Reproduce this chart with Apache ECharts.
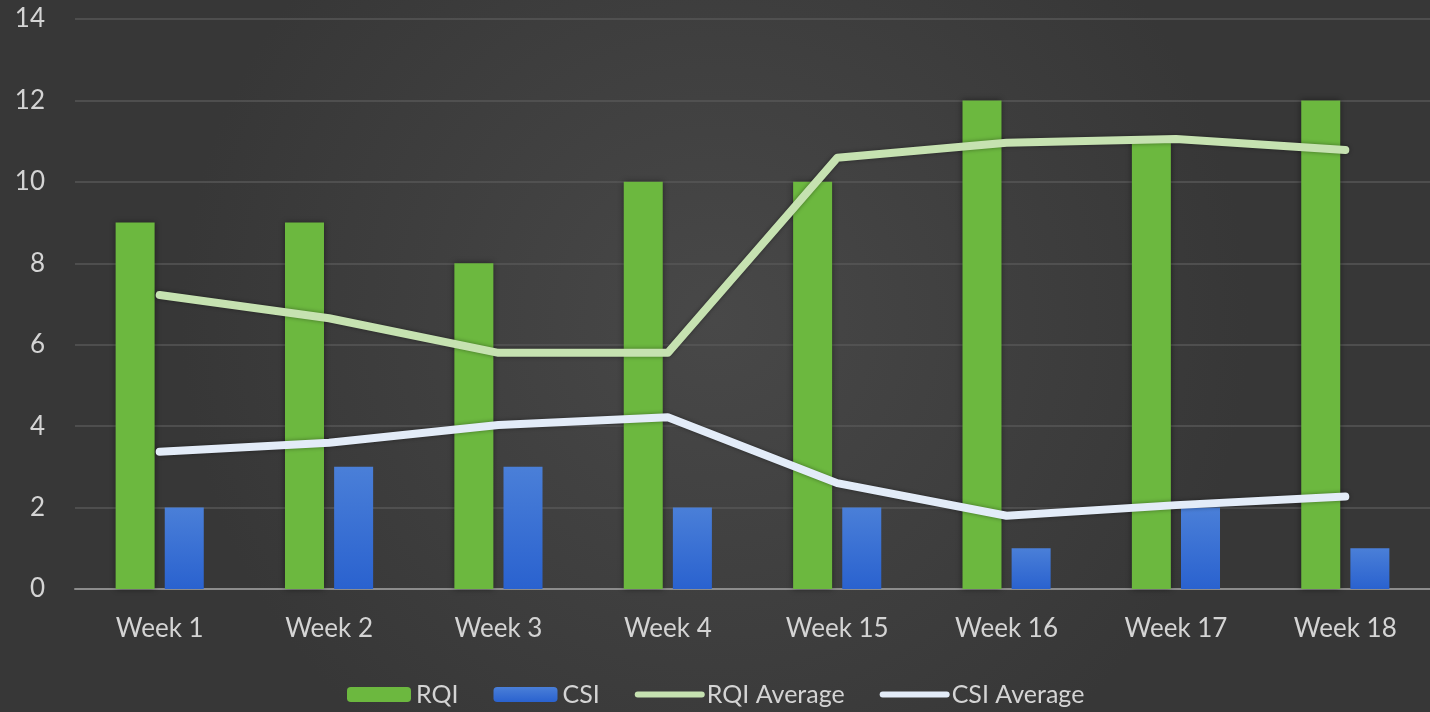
<!DOCTYPE html>
<html>
<head>
<meta charset="utf-8">
<script src="https://cdn.jsdelivr.net/npm/echarts@6/dist/echarts.min.js"></script>
<style>
  html, body { margin: 0; padding: 0; }
  #main { width: 1430px; height: 712px; }
</style>
</head>
<body>
<div id="main"></div>
<script>
// data
var weeks = ['Week 1', 'Week 2', 'Week 3', 'Week 4', 'Week 15', 'Week 16', 'Week 17', 'Week 18'];
var rqi = [9, 9, 8, 10, 10, 12, 11, 12];
var csi = [2, 3, 3, 2, 2, 1, 2, 1];
var rqiAvg = [7.22, 6.65, 5.8, 5.8, 10.59, 10.96, 11.05, 10.78];
var csiAvg = [3.37, 3.59, 4.03, 4.22, 2.6, 1.8, 2.06, 2.27];

var chart = echarts.init(document.getElementById('main'));
var font = 'Lato';

var option = {
  backgroundColor: {
    type: 'radial', x: 0.5, y: 0.45, r: 0.75,
    colorStops: [
      { offset: 0, color: '#484848' },
      { offset: 1, color: '#373737' }
    ]
  },
  textStyle: { fontFamily: font },
  grid: {
    left: 75,
    right: -11,
    top: 19,
    bottom: 123
  },
  legend: {
    left: 342,
    bottom: 0,
    itemWidth: 64,
    itemHeight: 15,
    itemGap: 35,
    textStyle: { color: '#d4d4d4', fontSize: 25, fontFamily: font },
    data: [
      'RQI',
      'CSI',
      { name: 'RQI Average', itemStyle: { opacity: 0 }, lineStyle: { width: 6 } },
      { name: 'CSI Average', itemStyle: { opacity: 0 }, lineStyle: { width: 6 } }
    ]
  },
  xAxis: {
    type: 'category',
    data: weeks,
    axisTick: { show: false },
    axisLine: { lineStyle: { color: '#8c8c8c', width: 2 } },
    axisLabel: { color: '#d4d4d4', fontSize: 26, margin: 27, fontFamily: font }
  },
  yAxis: {
    type: 'value',
    min: 0,
    max: 14,
    interval: 2,
    axisLine: { show: false },
    axisTick: { show: false },
    splitLine: { lineStyle: { color: '#575757', width: 1.5 } },
    axisLabel: { color: '#d4d4d4', fontSize: 26, margin: 30, fontFamily: font }
  },
  series: [
    {
      name: 'RQI',
      type: 'bar',
      data: rqi,
      barWidth: 39,
      barGap: '26%',
      itemStyle: {
        color: '#6cb83f',
        shadowColor: 'rgba(0,0,0,0.45)',
        shadowBlur: 6
      }
    },
    {
      name: 'CSI',
      type: 'bar',
      data: csi,
      barWidth: 39,
      itemStyle: {
        color: {
          type: 'linear', x: 0, y: 0, x2: 0, y2: 1,
          colorStops: [
            { offset: 0, color: '#4a7fd8' },
            { offset: 1, color: '#2a62cf' }
          ]
        },
        shadowColor: 'rgba(0,0,0,0.45)',
        shadowBlur: 6
      }
    },
    {
      name: 'RQI Average',
      type: 'line',
      data: rqiAvg,
      symbol: 'none',
      z: 5,
      lineStyle: {
        color: '#c6e2b1',
        width: 8,
        cap: 'round',
        join: 'round',
        shadowColor: 'rgba(0,0,0,0.4)',
        shadowBlur: 4
      },
      itemStyle: { color: '#c6e2b1' }
    },
    {
      name: 'CSI Average',
      type: 'line',
      data: csiAvg,
      symbol: 'none',
      z: 5,
      lineStyle: {
        color: '#e3ecf8',
        width: 8,
        cap: 'round',
        join: 'round',
        shadowColor: 'rgba(0,0,0,0.4)',
        shadowBlur: 4
      },
      itemStyle: { color: '#e3ecf8' }
    }
  ]
};

chart.setOption(option);
</script>
</body>
</html>
